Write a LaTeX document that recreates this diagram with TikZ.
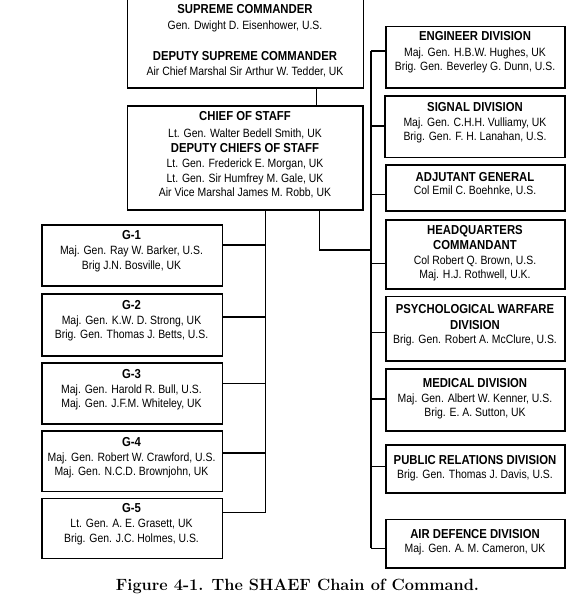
\documentclass[tikz,border=0pt]{standalone}
\usepackage{fontspec}
\newfontfamily\condfont{Liberation Sans}[FakeStretch=0.87]
\newcommand\boxhead[1]{{\fontsize{13}{14.5}\selectfont\bfseries #1}}
\tikzset{
  box/.style={draw=black, line width=1.2pt, inner sep=0pt, anchor=north west},
  txt/.style={align=center, inner sep=0pt, anchor=north, text=black,
              font=\condfont\fontsize{12}{14.5}\selectfont},
  conn/.style={draw=black, line width=1.2pt},
}
\begin{document}
\begin{tikzpicture}[x=1pt,y=-1pt]
\useasboundingbox (0,0) rectangle (588,598);

% ---------- top boxes ----------
\node[box, minimum width=236pt, minimum height=90.3pt] (sup) at (126.7,-3) {};
\node[txt] (suptxt) at (245,4.7) {\boxhead{SUPREME COMMANDER}\\[1pt]
  Gen. Dwight D. Eisenhower, U.S.\\[17pt]
  \boxhead{DEPUTY SUPREME COMMANDER}\\
  Air Chief Marshal Sir Arthur W. Tedder, UK};

\node[box, minimum width=235.6pt, minimum height=104pt] (cos) at (126.7,105.3) {};
\node[txt] (costxt) at (245,111.7) {\boxhead{CHIEF OF STAFF}\\[2pt]
  Lt. Gen. Walter Bedell Smith, UK\\[0.5pt]
  \boxhead{DEPUTY CHIEFS OF STAFF}\\[0.5pt]
  Lt. Gen. Frederick E. Morgan, UK\\[0.5pt]
  Lt. Gen. Sir Humfrey M. Gale, UK\\
  Air Vice Marshal James M. Robb, UK};

% ---------- left column ----------
\node[box, minimum width=180.4pt, minimum height=61pt] (g1) at (41.3,224.3) {};
\node[txt] (g1t) at (131.5,230.7) {\boxhead{G-1}\\[0.5pt]
  Maj. Gen. Ray W. Barker, U.S.\\ Brig J.N. Bosville, UK};
\node[box, minimum width=180.4pt, minimum height=62pt] (g2) at (41.3,293.3) {};
\node[txt] (g2t) at (131.5,300) {\boxhead{G-2}\\[0.5pt]
  Maj. Gen. K.W. D. Strong, UK\\ Brig. Gen. Thomas J. Betts, U.S.};
\node[box, minimum width=180.4pt, minimum height=61pt] (g3) at (41.3,362.3) {};
\node[txt] (g3t) at (131.5,369) {\boxhead{G-3}\\[0.5pt]
  Maj. Gen. Harold R. Bull, U.S.\\ Maj. Gen. J.F.M. Whiteley, UK};
\node[box, minimum width=180.4pt, minimum height=60.7pt] (g4) at (41.3,430.3) {};
\node[txt] (g4t) at (131.5,437) {\boxhead{G-4}\\[0.5pt]
  Maj. Gen. Robert W. Crawford, U.S.\\ Maj. Gen. N.C.D. Brownjohn, UK};
\node[box, minimum width=180.4pt, minimum height=60.3pt] (g5) at (41.3,497.7) {};
\node[txt] (g5t) at (131.5,503.4) {\boxhead{G-5}\\[0.5pt]
  Lt. Gen. A. E. Grasett, UK\\ Brig. Gen. J.C. Holmes, U.S.};

% ---------- right column ----------
\node[box, minimum width=179pt, minimum height=61.3pt] (eng) at (385.3,26) {};
\node[txt] (engt) at (475,31.7) {\boxhead{ENGINEER DIVISION}\\[1pt]
  Maj. Gen. H.B.W. Hughes, UK\\ Brig. Gen. Beverley G. Dunn, U.S.};
\node[box, minimum width=180pt, minimum height=61.7pt] (sig) at (384.3,95.3) {};
\node[txt] (sigt) at (475,102.4) {\boxhead{SIGNAL DIVISION}\\[0pt]
  Maj. Gen. C.H.H. Vulliamy, UK\\ Brig. Gen. F. H. Lanahan, U.S.};
\node[box, minimum width=179pt, minimum height=46pt] (adj) at (385.3,164.3) {};
\node[txt] (adjt) at (475,172) {\boxhead{ADJUTANT GENERAL}\\[-1pt]
  Col Emil C. Boehnke, U.S.};
\node[box, minimum width=179pt, minimum height=69pt] (hq) at (385.3,219.3) {};
\node[txt] (hqt) at (475,225) {\boxhead{HEADQUARTERS}\\[1pt]
  \boxhead{COMMANDANT}\\
  Col Robert Q. Brown, U.S.\\ Maj. H.J. Rothwell, U.K.};
\node[box, minimum width=179pt, minimum height=64.3pt] (psy) at (385.3,296) {};
\node[txt] (psyt) at (475,304.7) {\boxhead{PSYCHOLOGICAL WARFARE}\\[1pt]
  \boxhead{DIVISION}\\
  Brig. Gen. Robert A. McClure, U.S.};
\node[box, minimum width=179pt, minimum height=62pt] (med) at (385.3,368.3) {};
\node[txt] (medt) at (475,378) {\boxhead{MEDICAL DIVISION}\\[0.5pt]
  Maj. Gen. Albert W. Kenner, U.S.\\ Brig. E. A. Sutton, UK};
\node[box, minimum width=179pt, minimum height=48pt] (pub) at (385.3,444.3) {};
\node[txt] (pubt) at (475,455.7) {\boxhead{PUBLIC RELATIONS DIVISION}\\[-0.5pt]
  Brig. Gen. Thomas J. Davis, U.S.};
\node[box, minimum width=179pt, minimum height=48.6pt] (air) at (385.3,518.7) {};
\node[txt] (airt) at (475,529) {\boxhead{AIR DEFENCE DIVISION}\\[-0.5pt]
  Maj. Gen. A. M. Cameron, UK};

% ---------- buses ----------
\coordinate (lbus) at (265.7,0);
\coordinate (rbus) at (371,0);
\coordinate (cosr) at (319.3,0);

\draw[conn] (316.7,0 |- sup.south) -- (316.7,0 |- cos.north);
\draw[conn] (lbus |- cos.south) -- (lbus |- 0,512.3);
\draw[conn] (cosr |- cos.south) -- (cosr |- 0,250) -- (rbus |- 0,250);
\draw[conn] (rbus |- 0,51) -- (rbus |- 0,548.3);

\draw[conn] (g1.east |- 0,245)   -- (lbus |- 0,245);
\draw[conn] (g2.east |- 0,317)   -- (lbus |- 0,317);
\draw[conn] (g3.east |- 0,383.3) -- (lbus |- 0,383.3);
\draw[conn] (g4.east |- 0,453)   -- (lbus |- 0,453);
\draw[conn] (g5.east |- 0,512.3) -- (lbus |- 0,512.3);

\draw[conn] (rbus |- 0,51)    -- (eng.west |- 0,51);
\draw[conn] (rbus |- 0,126)   -- (sig.west |- 0,126);
\draw[conn] (rbus |- 0,194.7) -- ([xshift=2pt]adj.west |- 0,194.7);
\draw[conn] (rbus |- 0,263.3) -- (hq.west |- 0,263.3);
\draw[conn] (rbus |- 0,332.3) -- (psy.west |- 0,332.3);
\draw[conn] (rbus |- 0,399)   -- (med.west |- 0,399);
\draw[conn] (rbus |- 0,466.7) -- (pub.west |- 0,466.7);
\draw[conn] (rbus |- 0,548.3) -- (air.west |- 0,548.3);

% ---------- caption ----------
\node[anchor=base, inner sep=0pt, font=\fontsize{16.3}{19}\selectfont\bfseries] (cap) at (297.5,590)
  {Figure 4-1. The SHAEF Chain of Command.};
\end{tikzpicture}
\end{document}
